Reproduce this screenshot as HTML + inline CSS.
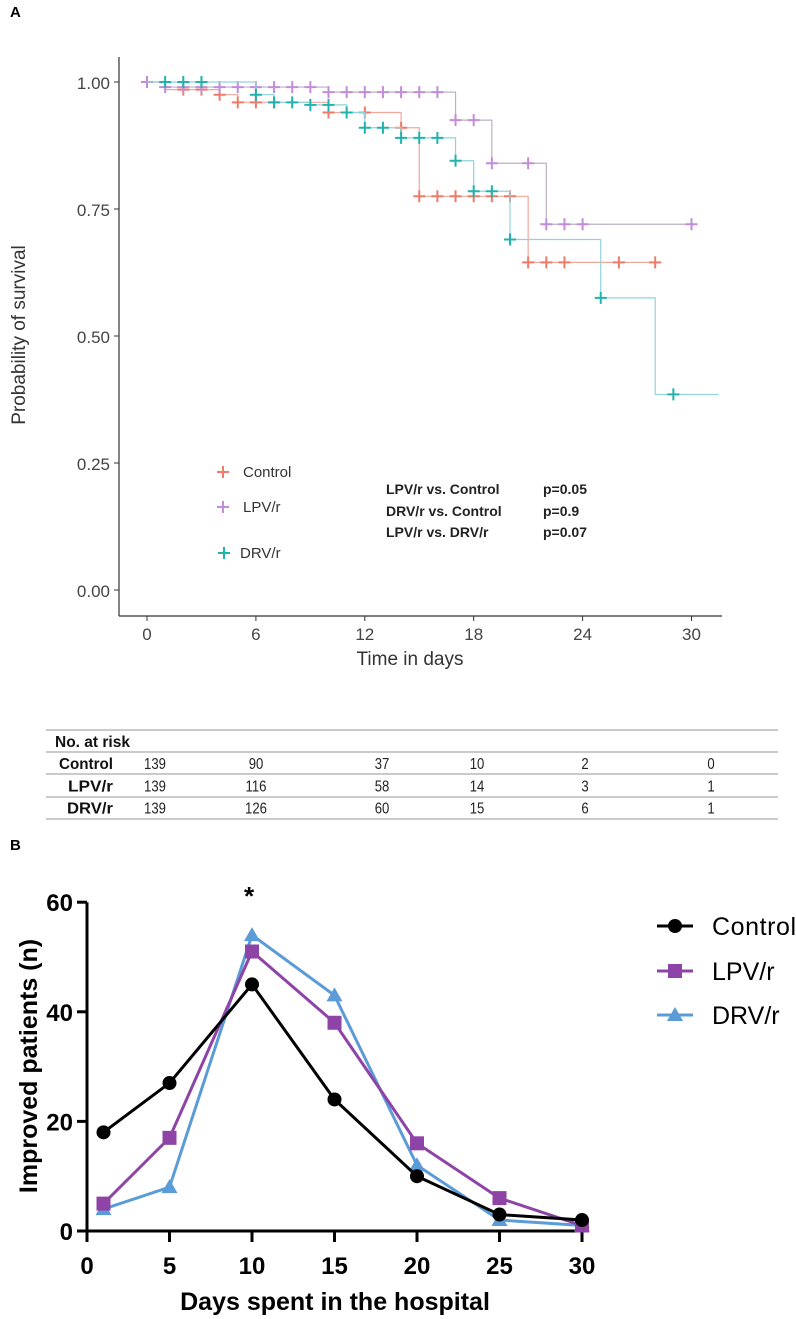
<!DOCTYPE html>
<html><head><meta charset="utf-8"><style>
body{margin:0;background:#fff;}
svg{display:block;font-family:"Liberation Sans",Arial,sans-serif;}
.nar{font-family:"Liberation Sans Narrow","Liberation Sans",Arial,sans-serif;}
</style></head><body>
<svg width="796" height="1319" viewBox="0 0 796 1319">
<g id="km"></g>
<g id="tbl"></g>
<g id="lc"></g>
</svg>
<script>
// ---- Panel A data ----
const kmTicksX=[0,6,12,18,24,30];
const kmTicksY=[0,0.25,0.5,0.75,1];
const ctrlStepT=[0,1,4,5,10,14,15,21];
const ctrlStepS=[1,0.985,0.975,0.96,0.94,0.91,0.775,0.645];
const ctrlEnd=28;
const ctrlCensT=[2,3,4,5,6,7,10,12,14,15,16,17,18,19,20,21,22,23,26,28];
const lpvStepT=[0,1,10,17,19,22];
const lpvStepS=[1,0.99,0.98,0.925,0.84,0.72];
const lpvEnd=30;
const lpvCensT=[0,1,2,3,4,5,6,7,8,9,10,11,12,13,14,15,16,17,18,19,21,22,23,24,30];
const drvStepT=[0,6,7,9,11,12,14,17,18,20,25,28];
const drvStepS=[1,0.975,0.96,0.955,0.94,0.91,0.89,0.845,0.785,0.69,0.575,0.385];
const drvEnd=31.5;
const drvCensT=[1,2,3,6,7,8,9,10,11,12,13,14,15,16,17,18,19,20,25,29];
// ---- Table data ----
const riskGroups=["Control","LPV/r","DRV/r"];
const riskControl=[139,90,37,10,2,0];
const riskLPV=[139,116,58,14,3,1];
const riskDRV=[139,126,60,15,6,1];
// ---- Panel B data ----
const bDays=[1,5,10,15,20,25,30];
const bControl=[18,27,45,24,10,3,2];
const bLPV=[5,17,51,38,16,6,1];
const bDRV=[4,8,54,43,12,2,1];
const bTicksX=[0,5,10,15,20,25,30];
const bTicksY=[0,20,40,60];

const NS="http://www.w3.org/2000/svg";
function mk(p,t,a,txt){const e=document.createElementNS(NS,t);for(const k in a){if(a[k]!=null)e.setAttribute(k,a[k]);}if(txt!=null)e.textContent=txt;p.appendChild(e);return e;}

// ---- Panel A ----
const km=document.getElementById('km');
const kx=t=>147+t*18.15, ky=s=>590-s*508;
let e=mk(km,'text',{x:10,y:17,'font-size':15,'font-weight':'bold'},'A');


mk(km,'line',{x1:119,y1:57,x2:119,y2:616,stroke:'#333','stroke-width':1.2});
mk(km,'line',{x1:119,y1:616,x2:722,y2:616,stroke:'#333','stroke-width':1.2});
kmTicksY.forEach(v=>{mk(km,'line',{x1:114,y1:ky(v),x2:119,y2:ky(v),stroke:'#333'});
 e=mk(km,'text',{x:110,y:ky(v)+7,'font-size':17,'text-anchor':'end',fill:'#444'},v.toFixed(2));
 
 });
kmTicksX.forEach(v=>{mk(km,'line',{x1:kx(v),y1:616,x2:kx(v),y2:621,stroke:'#333'});
 e=mk(km,'text',{x:kx(v),y:640,'font-size':17,'text-anchor':'middle',fill:'#444'},v);
 
 });
e=mk(km,'text',{x:410,y:665,'font-size':19,'text-anchor':'middle',fill:'#333'},'Time in days');


e=mk(km,'text',{x:0,y:0,'font-size':19,'text-anchor':'middle',fill:'#333',transform:'translate(25,335) rotate(-90)'},'Probability of survival');


function cross(g,x,y,c){mk(g,'path',{d:`M${x-6} ${y}H${x+6}M${x} ${y-6}V${y+6}`,stroke:c,'stroke-width':2});}
function stepSeries(name,T,S,end,cens,lc,mc){
 const g=mk(km,'g',{});
 
 
 let d=`M${kx(T[0])} ${ky(S[0])}`;
 for(let i=1;i<T.length;i++){d+=`H${kx(T[i])}V${ky(S[i])}`;}
 d+=`H${kx(end)}`;
 mk(g,'path',{d:d,fill:'none',stroke:lc,'stroke-width':1.2});
 cens.forEach(t=>{let s=S[0];for(let i=0;i<T.length;i++)if(T[i]<=t)s=S[i];cross(g,kx(t),ky(s),mc);});
}
stepSeries('control-curve',ctrlStepT,ctrlStepS,ctrlEnd,ctrlCensT,'#f0a79c','#ef7a68');
stepSeries('lpv-curve',lpvStepT,lpvStepS,lpvEnd,lpvCensT,'#bbb0c4','#c28cda');
stepSeries('drv-curve',drvStepT,drvStepS,drvEnd,drvCensT,'#8fd4da','#20b3ad');
[['Control','#ef7a68',472],['LPV/r','#c28cda',507],['DRV/r','#20b3ad',553]].forEach(([n,c,y],i)=>{
 const g=mk(km,'g',{});
 
 
 cross(g,i==2?224:223,y,c);
 mk(g,'text',{x:i==2?240:243,y:y+5,'font-size':15,fill:'#333'},n);
});
[['LPV/r vs. Control','p=0.05',494],['DRV/r vs. Control','p=0.9',516],['LPV/r vs. DRV/r','p=0.07',537]].forEach(([a,b,y])=>{
 e=mk(km,'text',{x:386,y:y,'font-size':14,'font-weight':'bold',fill:'#222'},a);
 
 
 e=mk(km,'text',{x:543,y:y,'font-size':14,'font-weight':'bold',fill:'#222'},b);
 
 
});

// ---- Table ----
const tb=document.getElementById('tbl');
[730,752,774,797,819].forEach(y=>mk(tb,'line',{x1:46,y1:y,x2:778,y2:y,stroke:'#aaa','stroke-width':1.2}));
e=mk(tb,'text',{x:55,y:747,'font-size':16,'font-weight':'bold',fill:'#111',class:'nar',textLength:75,lengthAdjust:'spacingAndGlyphs'},'No. at risk');


const colX=[155,256,382,477,585,711];
const labW=[54,45,46];
[riskControl,riskLPV,riskDRV].forEach((row,r)=>{
 const y=769+r*22.3;
 e=mk(tb,'text',{x:113-labW[r],y:y,'font-size':16,'font-weight':'bold',fill:'#111',class:'nar',textLength:labW[r],lengthAdjust:'spacingAndGlyphs'},riskGroups[r]);
 
 
 row.forEach((v,i)=>{e=mk(tb,'text',{x:colX[i],y:y,'font-size':16,'text-anchor':'middle',fill:'#222',class:'nar',transform:`translate(${colX[i]*0.18},0) scale(0.82,1)`},v);
  
  });
});

// ---- Panel B ----
const lc=document.getElementById('lc');
const bx=d=>87+d*16.5, by=v=>1231-v*5.48;
e=mk(lc,'text',{x:10,y:850,'font-size':15,'font-weight':'bold'},'B');


mk(lc,'path',{d:`M87 ${by(60)}V1231H${bx(30)}`,fill:'none',stroke:'#000','stroke-width':3});
bTicksY.forEach(v=>{mk(lc,'line',{x1:77,y1:by(v),x2:87,y2:by(v),stroke:'#000','stroke-width':3});
 e=mk(lc,'text',{x:73,y:by(v)+9,'font-size':24,'font-weight':'bold','text-anchor':'end'},v);
 
 });
bTicksX.forEach(v=>{mk(lc,'line',{x1:bx(v),y1:1231,x2:bx(v),y2:1242,stroke:'#000','stroke-width':3});
 e=mk(lc,'text',{x:bx(v),y:1274,'font-size':24,'font-weight':'bold','text-anchor':'middle'},v);
 
 });
e=mk(lc,'text',{x:335,y:1310,'font-size':25,'font-weight':'bold','text-anchor':'middle'},'Days spent in the hospital');


e=mk(lc,'text',{x:0,y:0,'font-size':25,'font-weight':'bold','text-anchor':'middle',transform:'translate(37,1066) rotate(-90)'},'Improved patients (n)');


e=mk(lc,'text',{x:bx(10)-3,y:905,'font-size':26,'font-weight':'bold','text-anchor':'middle'},'*');


function marker(g,shape,x,y,c){
 if(shape==='c')mk(g,'circle',{cx:x,cy:y,r:7,fill:c});
 else if(shape==='s')mk(g,'rect',{x:x-7,y:y-7,width:14,height:14,fill:c});
 else mk(g,'path',{d:`M${x} ${y-8}L${x+8} ${y+6}L${x-8} ${y+6}Z`,fill:c});
}
function lineSeries(name,vals,c,shape){
 const g=mk(lc,'g',{});
 
 
 mk(g,'polyline',{points:vals.map((v,i)=>bx(bDays[i])+','+by(v)).join(' '),fill:'none',stroke:c,'stroke-width':3});
 vals.forEach((v,i)=>marker(g,shape,bx(bDays[i]),by(v),c));
}
lineSeries('drv-line',bDRV,'#5b9bd8','t');
lineSeries('lpv-line',bLPV,'#8e44a6','s');
lineSeries('control-line',bControl,'#000','c');
[['Control','#000','c',926],['LPV/r','#8e44a6','s',971],['DRV/r','#5b9bd8','t',1015]].forEach(([n,c,s,y])=>{
 const g=mk(lc,'g',{});
 
 
 mk(g,'line',{x1:657,y1:y,x2:693,y2:y,stroke:c,'stroke-width':3});
 marker(g,s,675,y,c);
 mk(g,'text',{x:712,y:y+9,'font-size':25,textLength:n==='Control'?84:null},n);
});
</script>
</body></html>
